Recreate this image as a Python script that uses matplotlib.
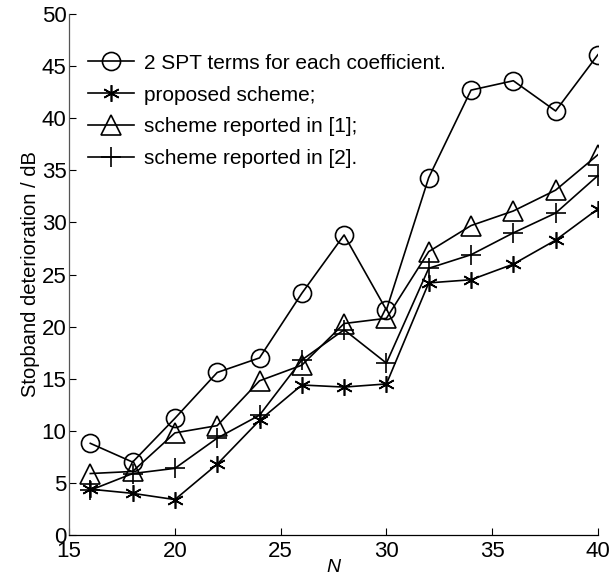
import matplotlib
matplotlib.use("Agg")
import matplotlib.pyplot as plt

plt.rcParams['font.family'] = ['Liberation Sans', 'DejaVu Sans']

# filter length N
N = [16, 18, 20, 22, 24, 26, 28, 30, 32, 34, 36, 38, 40]

# stopband deterioration in dB
spt2 = [8.8, 7.0, 11.2, 15.6, 17.0, 23.2, 28.8, 21.6, 34.3, 42.7, 43.6, 40.7, 46.1]
proposed = [4.4, 4.0, 3.4, 6.8, 11.0, 14.4, 14.2, 14.5, 24.2, 24.5, 26.0, 28.3, 31.3]
ref1 = [5.9, 6.1, 9.8, 10.5, 14.8, 16.3, 20.3, 20.8, 27.2, 29.7, 31.1, 33.1, 36.5]
ref2 = [4.3, 5.9, 6.4, 9.3, 11.5, 16.8, 19.7, 16.5, 25.6, 26.9, 29.0, 30.9, 34.5]

labels = ["2 SPT terms for each coefficient.",
          "proposed scheme;",
          "scheme reported in [1];",
          "scheme reported in [2]."]

fig = plt.figure(figsize=(6.12, 5.86), dpi=100)
ax = fig.add_axes([0.113, 0.087, 0.864, 0.889])

lw = 1.2
ax.plot(N, spt2, color='black', lw=lw, marker='o', ms=13, mfc='none', mew=1.2, label=labels[0])
ax.plot(N, proposed, color='black', lw=lw, marker=(6, 2, 0), ms=12, mew=1.2, label=labels[1])
ax.plot(N, ref1, color='black', lw=lw, marker='^', ms=14, mfc='none', mew=1.2, label=labels[2])
ax.plot(N, ref2, color='black', lw=lw, marker='+', ms=14, mew=1.2, label=labels[3])

ax.set_xlim(15, 40)
ax.set_ylim(0, 50)
ax.set_xticks([15, 20, 25, 30, 35, 40])
ax.set_yticks([0, 5, 10, 15, 20, 25, 30, 35, 40, 45, 50])

ax.spines['top'].set_visible(False)
ax.spines['right'].set_visible(False)
ax.spines['left'].set_color('#555555')
ax.spines['left'].set_linewidth(0.9)
ax.spines['bottom'].set_linewidth(0.9)
ax.tick_params(direction='in', length=5, labelsize=16, pad=2)
ax.tick_params(axis='x', pad=4)

ax.set_xlabel("N", fontsize=14, style='italic', labelpad=-2)
ax.set_ylabel("Stopband deterioration / dB", fontsize=14.5, labelpad=1)

leg = ax.legend(loc='upper left', bbox_to_anchor=(0.02, 0.94), frameon=False,
                fontsize=15, handlelength=2.2, handletextpad=0.5,
                labelspacing=0.62, borderaxespad=0)

fig.savefig("out.png", dpi=100)
plt.close('all')
